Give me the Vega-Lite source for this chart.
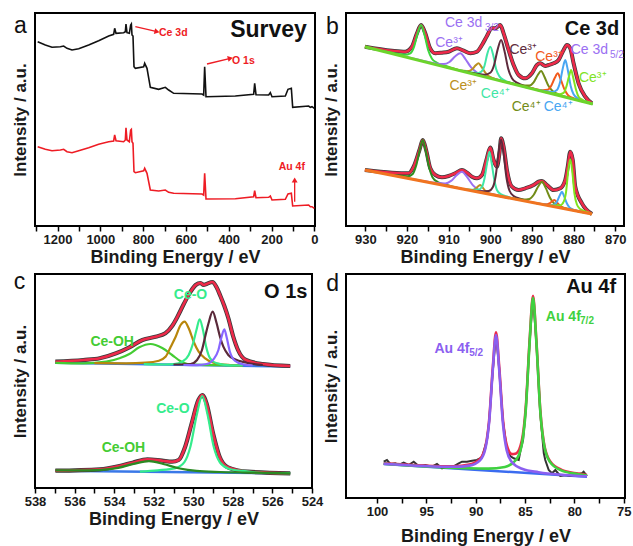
{
"$schema": "https://vega.github.io/schema/vega-lite/v6.json",
"padding": {"left": 10, "top": 12, "right": 2, "bottom": 2},
"background": "white",
"config": {
  "font": "Liberation Sans",
  "view": {"stroke": "#000000", "strokeWidth": 2},
  "axis": {"grid": false, "domain": false, "labelFontWeight": "bold", "labelFontSize": 13, "labelColor": "#1a1a1a", "labelFlush": false, "labelOverlap": false, "titleFontWeight": "bold", "titleColor": "#1a1a1a", "tickColor": "#000000", "tickWidth": 1.5, "tickSize": 5, "labelPadding": 2},
  "axisX": {"titleFontSize": 18, "titlePadding": 2},
  "axisY": {"ticks": false, "labels": false, "titleFontSize": 17, "titlePadding": 6}
},
"columns": 2,
"spacing": {"row": 48, "column": 31},
"align": "each",
"bounds": "flush",
"resolve": {"scale": {"x": "independent", "y": "independent", "color": "independent"}},
"datasets": {
"a": [
{"k":"bk","e":1292.8,"v":184.3},{"k":"bk","e":1257,"v":181},{"k":"bk","e":1225.9,"v":178.7},{"k":"bk","e":1186.9,"v":179.3},{"k":"bk","e":1171.3,"v":180},{"k":"bk","e":1155.8,"v":177.7},{"k":"bk","e":1132.4,"v":176},{"k":"bk","e":1101.2,"v":177.3},{"k":"bk","e":1054.5,"v":181},{"k":"bk","e":1007.8,"v":185.3},{"k":"bk","e":961,"v":190},{"k":"bk","e":937.7,"v":191.7},{"k":"bk","e":933,"v":197.7},{"k":"bk","e":926.8,"v":192.7},{"k":"bk","e":891,"v":193.3},{"k":"bk","e":883.2,"v":194.3},{"k":"bk","e":880.1,"v":202},{"k":"bk","e":875.4,"v":193.3},{"k":"bk","e":864.5,"v":192.7},{"k":"bk","e":858.3,"v":201},{"k":"bk","e":855.1,"v":202},{"k":"bk","e":852,"v":191},{"k":"bk","e":847.4,"v":190},{"k":"bk","e":842.7,"v":159.3},{"k":"bk","e":836.4,"v":157.7},{"k":"bk","e":797.5,"v":159.3},{"k":"bk","e":792.8,"v":162.7},{"k":"bk","e":781.9,"v":157.7},{"k":"bk","e":766.4,"v":138.7},{"k":"bk","e":727.4,"v":136.7},{"k":"bk","e":696.3,"v":138.7},{"k":"bk","e":680.7,"v":136},{"k":"bk","e":657.3,"v":132.7},{"k":"bk","e":524.9,"v":132},{"k":"bk","e":517.1,"v":131},{"k":"bk","e":512.5,"v":159.3},{"k":"bk","e":506.2,"v":129.3},{"k":"bk","e":369.2,"v":130},{"k":"bk","e":283.5,"v":131.7},{"k":"bk","e":278.8,"v":142.7},{"k":"bk","e":272.6,"v":131.3},{"k":"bk","e":213.4,"v":131},{"k":"bk","e":205.6,"v":133.3},{"k":"bk","e":197.8,"v":129.3},{"k":"bk","e":135.5,"v":130},{"k":"bk","e":123.1,"v":136.7},{"k":"bk","e":107.5,"v":137.7},{"k":"bk","e":101.2,"v":118.7},{"k":"bk","e":26.5,"v":120},{"k":"bk","e":18.7,"v":118.7},{"k":"bk","e":10.9,"v":119.3},{"k":"bk","e":0,"v":117.7},
{"k":"rd","e":1292.8,"v":79.3},{"k":"rd","e":1257,"v":76.7},{"k":"rd","e":1225.9,"v":75.3},{"k":"rd","e":1186.9,"v":76},{"k":"rd","e":1171.3,"v":76.7},{"k":"rd","e":1155.8,"v":74.3},{"k":"rd","e":1132.4,"v":73.3},{"k":"rd","e":1101.2,"v":75.3},{"k":"rd","e":1054.5,"v":78.3},{"k":"rd","e":1007.8,"v":81.7},{"k":"rd","e":961,"v":84.3},{"k":"rd","e":937.7,"v":85},{"k":"rd","e":933,"v":91},{"k":"rd","e":926.8,"v":85.3},{"k":"rd","e":891,"v":84.3},{"k":"rd","e":883.2,"v":86},{"k":"rd","e":880.1,"v":98.3},{"k":"rd","e":875.4,"v":86},{"k":"rd","e":864.5,"v":84.3},{"k":"rd","e":858.3,"v":96},{"k":"rd","e":855.1,"v":96.7},{"k":"rd","e":852,"v":84.3},{"k":"rd","e":847.4,"v":82.7},{"k":"rd","e":842.7,"v":54.3},{"k":"rd","e":836.4,"v":53.3},{"k":"rd","e":797.5,"v":55.3},{"k":"rd","e":792.8,"v":57.7},{"k":"rd","e":781.9,"v":52.7},{"k":"rd","e":766.4,"v":36},{"k":"rd","e":727.4,"v":35},{"k":"rd","e":696.3,"v":36},{"k":"rd","e":680.7,"v":33.7},{"k":"rd","e":657.3,"v":32.7},{"k":"rd","e":524.9,"v":32},{"k":"rd","e":517.1,"v":31},{"k":"rd","e":512.5,"v":52.7},{"k":"rd","e":506.2,"v":27},{"k":"rd","e":369.2,"v":27.3},{"k":"rd","e":283.5,"v":29.3},{"k":"rd","e":278.8,"v":35.3},{"k":"rd","e":272.6,"v":28.3},{"k":"rd","e":213.4,"v":28.7},{"k":"rd","e":205.6,"v":30},{"k":"rd","e":197.8,"v":26},{"k":"rd","e":135.5,"v":26.7},{"k":"rd","e":123.1,"v":32},{"k":"rd","e":107.5,"v":32.7},{"k":"rd","e":101.2,"v":20},{"k":"rd","e":26.5,"v":21},{"k":"rd","e":18.7,"v":19.3},{"k":"rd","e":10.9,"v":19.3},{"k":"rd","e":0,"v":17.7},
{"k":"ann","t":"Ce 3d","e":725.9,"v":193},{"k":"ann","t":"O 1s","e":384.7,"v":165},{"k":"ann","t":"Au 4f","e":166.7,"v":59.3},
{"k":"arrow","t":"ce","e":836.4,"v":199.3,"e2":735.2,"v2":194.3},{"k":"arrow","t":"o","e":501.6,"v":162,"e2":392.5,"v2":167.7},{"k":"arrow","t":"au","e":91.9,"v":24.3,"e2":91.9,"v2":46},
{"k":"title","t":"Survey","e":214.2,"v":196},{"k":"letter","t":"a","e":1373,"v":200}
],
"b": [
{"k":"env","g":"eT","e":930.1,"v":179.3},{"k":"env","g":"eT","e":923.6,"v":175.3},{"k":"env","g":"eT","e":920.4,"v":174.3},{"k":"env","g":"eT","e":918.8,"v":179.3},{"k":"env","g":"eT","e":917.6,"v":192.7},{"k":"env","g":"eT","e":916.6,"v":201},{"k":"env","g":"eT","e":915.6,"v":192.7},{"k":"env","g":"eT","e":914.6,"v":179.3},{"k":"env","g":"eT","e":913.2,"v":172.7},{"k":"env","g":"eT","e":911.6,"v":173.3},{"k":"env","g":"eT","e":910,"v":174.3},{"k":"env","g":"eT","e":908,"v":177.7},{"k":"env","g":"eT","e":906.4,"v":175.3},{"k":"env","g":"eT","e":904.8,"v":172.7},{"k":"env","g":"eT","e":903.2,"v":174.3},{"k":"env","g":"eT","e":902,"v":181},{"k":"env","g":"eT","e":900.8,"v":190},{"k":"env","g":"eT","e":899.6,"v":198},{"k":"env","g":"eT","e":898.8,"v":197.7},{"k":"env","g":"eT","e":897.6,"v":201},{"k":"env","g":"eT","e":896.8,"v":192.7},{"k":"env","g":"eT","e":895.6,"v":176},{"k":"env","g":"eT","e":894.4,"v":161},{"k":"env","g":"eT","e":893.2,"v":151},{"k":"env","g":"eT","e":891.6,"v":147.7},{"k":"env","g":"eT","e":890,"v":152.7},{"k":"env","g":"eT","e":888.8,"v":161},{"k":"env","g":"eT","e":888,"v":162.7},{"k":"env","g":"eT","e":886.8,"v":160},{"k":"env","g":"eT","e":886,"v":161},{"k":"env","g":"eT","e":884.8,"v":162.7},{"k":"env","g":"eT","e":883.6,"v":166},{"k":"env","g":"eT","e":882.4,"v":176},{"k":"env","g":"eT","e":881.6,"v":181},{"k":"env","g":"eT","e":880.8,"v":177.7},{"k":"env","g":"eT","e":880,"v":162.7},{"k":"env","g":"eT","e":878.8,"v":142.7},{"k":"env","g":"eT","e":877.2,"v":129.3},{"k":"env","g":"eT","e":875.6,"v":122.7},
{"k":"env","g":"eB","e":930.1,"v":56},{"k":"env","g":"eB","e":923.6,"v":53.3},{"k":"env","g":"eB","e":919.6,"v":52.7},{"k":"env","g":"eB","e":918.4,"v":59.3},{"k":"env","g":"eB","e":917,"v":76},{"k":"env","g":"eB","e":916.2,"v":86},{"k":"env","g":"eB","e":915.4,"v":76},{"k":"env","g":"eB","e":914.4,"v":57.7},{"k":"env","g":"eB","e":913.2,"v":51},{"k":"env","g":"eB","e":911.6,"v":48.7},{"k":"env","g":"eB","e":910,"v":50},{"k":"env","g":"eB","e":908.4,"v":52.7},{"k":"env","g":"eB","e":906.8,"v":56},{"k":"env","g":"eB","e":905.6,"v":53.3},{"k":"env","g":"eB","e":904.4,"v":49.3},{"k":"env","g":"eB","e":903.2,"v":47.7},{"k":"env","g":"eB","e":902,"v":51},{"k":"env","g":"eB","e":900.8,"v":68},{"k":"env","g":"eB","e":900,"v":78.5},{"k":"env","g":"eB","e":899.2,"v":66},{"k":"env","g":"eB","e":898.4,"v":59.3},{"k":"env","g":"eB","e":897.8,"v":72.7},{"k":"env","g":"eB","e":897.4,"v":87.7},{"k":"env","g":"eB","e":896.8,"v":79.3},{"k":"env","g":"eB","e":896,"v":56},{"k":"env","g":"eB","e":894.8,"v":39.3},{"k":"env","g":"eB","e":893.2,"v":36},{"k":"env","g":"eB","e":891.6,"v":37.7},{"k":"env","g":"eB","e":889.6,"v":41},{"k":"env","g":"eB","e":888.4,"v":44.3},{"k":"env","g":"eB","e":887.6,"v":45},{"k":"env","g":"eB","e":886.4,"v":41},{"k":"env","g":"eB","e":884.8,"v":36},{"k":"env","g":"eB","e":883.2,"v":37.7},{"k":"env","g":"eB","e":882,"v":46},{"k":"env","g":"eB","e":881.4,"v":59.3},{"k":"env","g":"eB","e":880.8,"v":74.3},{"k":"env","g":"eB","e":880.2,"v":66},{"k":"env","g":"eB","e":879.6,"v":39.3},{"k":"env","g":"eB","e":878,"v":22.7},{"k":"env","g":"eB","e":875.6,"v":12},
{"k":"c","g":"T1","s":"g1","e":907.5,"v":155.7},{"k":"c","g":"T1","s":"g1","e":910.1,"v":159.2},{"k":"c","g":"T1","s":"g1","e":912.7,"v":163},{"k":"c","g":"T1","s":"g1","e":914,"v":167.3},{"k":"c","g":"T1","s":"g1","e":914.9,"v":175.7},{"k":"c","g":"T1","s":"g1","e":915.8,"v":191.5},{"k":"c","g":"T1","s":"g1","e":916.6,"v":201},{"k":"c","g":"T1","s":"g1","e":917.4,"v":193.1},{"k":"c","g":"T1","s":"g1","e":918.3,"v":179.2},{"k":"c","g":"T1","s":"g1","e":919.2,"v":172.7},{"k":"c","g":"T1","s":"g1","e":920.5,"v":171.2},{"k":"c","g":"T1","s":"g1","e":923.1,"v":172.8},{"k":"c","g":"T1","s":"g1","e":925.7,"v":174.9},
{"k":"c","g":"T2","s":"pu","e":893.2,"v":140.7},{"k":"c","g":"T2","s":"pu","e":897.2,"v":145.2},{"k":"c","g":"T2","s":"pu","e":901.2,"v":150},{"k":"c","g":"T2","s":"pu","e":903.2,"v":153.5},{"k":"c","g":"T2","s":"pu","e":904.6,"v":158.6},{"k":"c","g":"T2","s":"pu","e":906,"v":167.2},{"k":"c","g":"T2","s":"pu","e":907.2,"v":172.7},{"k":"c","g":"T2","s":"pu","e":908.4,"v":169.8},{"k":"c","g":"T2","s":"pu","e":909.8,"v":164},{"k":"c","g":"T2","s":"pu","e":911.2,"v":161.9},{"k":"c","g":"T2","s":"pu","e":913.2,"v":162.6},{"k":"c","g":"T2","s":"pu","e":917.2,"v":166.2},{"k":"c","g":"T2","s":"pu","e":921.2,"v":170.1},
{"k":"c","g":"T3","s":"go","e":894.4,"v":142},{"k":"c","g":"T3","s":"go","e":896.8,"v":144.7},{"k":"c","g":"T3","s":"go","e":899.2,"v":147.6},{"k":"c","g":"T3","s":"go","e":900.4,"v":149.9},{"k":"c","g":"T3","s":"go","e":901.2,"v":153.3},{"k":"c","g":"T3","s":"go","e":902.1,"v":159.1},{"k":"c","g":"T3","s":"go","e":902.8,"v":162.8},{"k":"c","g":"T3","s":"go","e":903.5,"v":160.7},{"k":"c","g":"T3","s":"go","e":904.4,"v":156.5},{"k":"c","g":"T3","s":"go","e":905.2,"v":154.9},{"k":"c","g":"T3","s":"go","e":906.4,"v":155.2},{"k":"c","g":"T3","s":"go","e":908.8,"v":157.3},{"k":"c","g":"T3","s":"go","e":911.2,"v":159.6},
{"k":"c","g":"T4","s":"te","e":892.3,"v":139.7},{"k":"c","g":"T4","s":"te","e":894.5,"v":142.6},{"k":"c","g":"T4","s":"te","e":896.7,"v":145.9},{"k":"c","g":"T4","s":"te","e":897.8,"v":149.6},{"k":"c","g":"T4","s":"te","e":898.6,"v":157},{"k":"c","g":"T4","s":"te","e":899.3,"v":171},{"k":"c","g":"T4","s":"te","e":900,"v":179.3},{"k":"c","g":"T4","s":"te","e":900.7,"v":172.4},{"k":"c","g":"T4","s":"te","e":901.4,"v":160},{"k":"c","g":"T4","s":"te","e":902.2,"v":154.2},{"k":"c","g":"T4","s":"te","e":903.3,"v":152.9},{"k":"c","g":"T4","s":"te","e":905.5,"v":154.2},{"k":"c","g":"T4","s":"te","e":907.7,"v":155.9},
{"k":"c","g":"T5","s":"ma","e":888.3,"v":135.5},{"k":"c","g":"T5","s":"ma","e":890.9,"v":139.1},{"k":"c","g":"T5","s":"ma","e":893.5,"v":143.1},{"k":"c","g":"T5","s":"ma","e":894.8,"v":147.8},{"k":"c","g":"T5","s":"ma","e":895.7,"v":157.3},{"k":"c","g":"T5","s":"ma","e":896.6,"v":175.3},{"k":"c","g":"T5","s":"ma","e":897.4,"v":186},{"k":"c","g":"T5","s":"ma","e":898.2,"v":176.9},{"k":"c","g":"T5","s":"ma","e":899.1,"v":160.8},{"k":"c","g":"T5","s":"ma","e":900,"v":153.2},{"k":"c","g":"T5","s":"ma","e":901.3,"v":151.3},{"k":"c","g":"T5","s":"ma","e":903.9,"v":152.7},{"k":"c","g":"T5","s":"ma","e":906.5,"v":154.7},
{"k":"c","g":"T6","s":"ol","e":878,"v":124.7},{"k":"c","g":"T6","s":"ol","e":880.8,"v":128.1},{"k":"c","g":"T6","s":"ol","e":883.6,"v":131.6},{"k":"c","g":"T6","s":"ol","e":885,"v":134.7},{"k":"c","g":"T6","s":"ol","e":886,"v":139.9},{"k":"c","g":"T6","s":"ol","e":887,"v":149.2},{"k":"c","g":"T6","s":"ol","e":887.8,"v":155},{"k":"c","g":"T6","s":"ol","e":888.6,"v":151},{"k":"c","g":"T6","s":"ol","e":889.6,"v":143.7},{"k":"c","g":"T6","s":"ol","e":890.6,"v":140.5},{"k":"c","g":"T6","s":"ol","e":892,"v":140.4},{"k":"c","g":"T6","s":"ol","e":894.8,"v":142.8},{"k":"c","g":"T6","s":"ol","e":897.6,"v":145.3},
{"k":"c","g":"T7","s":"or","e":875.4,"v":122},{"k":"c","g":"T7","s":"or","e":877.8,"v":124.9},{"k":"c","g":"T7","s":"or","e":880.2,"v":128.1},{"k":"c","g":"T7","s":"or","e":881.4,"v":131.2},{"k":"c","g":"T7","s":"or","e":882.2,"v":136.7},{"k":"c","g":"T7","s":"or","e":883.1,"v":146.6},{"k":"c","g":"T7","s":"or","e":883.8,"v":152.7},{"k":"c","g":"T7","s":"or","e":884.5,"v":148.2},{"k":"c","g":"T7","s":"or","e":885.4,"v":139.9},{"k":"c","g":"T7","s":"or","e":886.2,"v":136.2},{"k":"c","g":"T7","s":"or","e":887.4,"v":135.7},{"k":"c","g":"T7","s":"or","e":889.8,"v":137.5},{"k":"c","g":"T7","s":"or","e":892.2,"v":139.6},
{"k":"c","g":"T8","s":"bl","e":875.4,"v":122},{"k":"c","g":"T8","s":"bl","e":877,"v":124.4},{"k":"c","g":"T8","s":"bl","e":879,"v":127.7},{"k":"c","g":"T8","s":"bl","e":880,"v":131.7},{"k":"c","g":"T8","s":"bl","e":880.7,"v":140.1},{"k":"c","g":"T8","s":"bl","e":881.4,"v":156.3},{"k":"c","g":"T8","s":"bl","e":882,"v":165.9},{"k":"c","g":"T8","s":"bl","e":882.6,"v":157.5},{"k":"c","g":"T8","s":"bl","e":883.3,"v":142.9},{"k":"c","g":"T8","s":"bl","e":884,"v":135.9},{"k":"c","g":"T8","s":"bl","e":885,"v":134},{"k":"c","g":"T8","s":"bl","e":887,"v":134.9},{"k":"c","g":"T8","s":"bl","e":889,"v":136.3},
{"k":"c","g":"T9","s":"lg","e":875.4,"v":122},{"k":"c","g":"T9","s":"lg","e":876.1,"v":123.3},{"k":"c","g":"T9","s":"lg","e":877.9,"v":126.2},{"k":"c","g":"T9","s":"lg","e":878.8,"v":129.3},{"k":"c","g":"T9","s":"lg","e":879.4,"v":136},{"k":"c","g":"T9","s":"lg","e":880.1,"v":148.5},{"k":"c","g":"T9","s":"lg","e":880.6,"v":156},{"k":"c","g":"T9","s":"lg","e":881.1,"v":149.6},{"k":"c","g":"T9","s":"lg","e":881.8,"v":138.5},{"k":"c","g":"T9","s":"lg","e":882.4,"v":133.1},{"k":"c","g":"T9","s":"lg","e":883.3,"v":131.8},{"k":"c","g":"T9","s":"lg","e":885.1,"v":132.7},{"k":"c","g":"T9","s":"lg","e":886.9,"v":134.1},
{"k":"c","g":"B1","s":"dg","e":907.8,"v":38},{"k":"c","g":"B1","s":"dg","e":910.2,"v":40.8},{"k":"c","g":"B1","s":"dg","e":912.6,"v":44},{"k":"c","g":"B1","s":"dg","e":913.8,"v":48.3},{"k":"c","g":"B1","s":"dg","e":914.6,"v":57.5},{"k":"c","g":"B1","s":"dg","e":915.5,"v":75.4},{"k":"c","g":"B1","s":"dg","e":916.2,"v":86},{"k":"c","g":"B1","s":"dg","e":916.9,"v":76.6},{"k":"c","g":"B1","s":"dg","e":917.8,"v":60.2},{"k":"c","g":"B1","s":"dg","e":918.6,"v":52.1},{"k":"c","g":"B1","s":"dg","e":919.8,"v":49.8},{"k":"c","g":"B1","s":"dg","e":922.2,"v":50.4},{"k":"c","g":"B1","s":"dg","e":924.6,"v":51.6},
{"k":"c","g":"B2","s":"pu","e":892.8,"v":25.9},{"k":"c","g":"B2","s":"pu","e":896.8,"v":29.4},{"k":"c","g":"B2","s":"pu","e":900.8,"v":33.3},{"k":"c","g":"B2","s":"pu","e":902.8,"v":36.2},{"k":"c","g":"B2","s":"pu","e":904.2,"v":40.9},{"k":"c","g":"B2","s":"pu","e":905.6,"v":49.1},{"k":"c","g":"B2","s":"pu","e":906.8,"v":54.2},{"k":"c","g":"B2","s":"pu","e":908,"v":51.1},{"k":"c","g":"B2","s":"pu","e":909.4,"v":45.1},{"k":"c","g":"B2","s":"pu","e":910.8,"v":42.6},{"k":"c","g":"B2","s":"pu","e":912.8,"v":42.9},{"k":"c","g":"B2","s":"pu","e":916.8,"v":45.6},{"k":"c","g":"B2","s":"pu","e":920.8,"v":48.5},
{"k":"c","g":"B3","s":"go","e":896.1,"v":28.5},{"k":"c","g":"B3","s":"go","e":897.9,"v":30.1},{"k":"c","g":"B3","s":"go","e":899.7,"v":31.8},{"k":"c","g":"B3","s":"go","e":900.6,"v":33.1},{"k":"c","g":"B3","s":"go","e":901.2,"v":35.3},{"k":"c","g":"B3","s":"go","e":901.9,"v":38.9},{"k":"c","g":"B3","s":"go","e":902.4,"v":41.1},{"k":"c","g":"B3","s":"go","e":902.9,"v":39.7},{"k":"c","g":"B3","s":"go","e":903.6,"v":37.1},{"k":"c","g":"B3","s":"go","e":904.2,"v":36.1},{"k":"c","g":"B3","s":"go","e":905.1,"v":36.2},{"k":"c","g":"B3","s":"go","e":906.9,"v":37.3},{"k":"c","g":"B3","s":"go","e":908.7,"v":38.7},
{"k":"c","g":"B4","s":"te","e":893.9,"v":26.8},{"k":"c","g":"B4","s":"te","e":895.7,"v":29.1},{"k":"c","g":"B4","s":"te","e":897.5,"v":31.9},{"k":"c","g":"B4","s":"te","e":898.4,"v":36},{"k":"c","g":"B4","s":"te","e":899,"v":45.5},{"k":"c","g":"B4","s":"te","e":899.7,"v":63.6},{"k":"c","g":"B4","s":"te","e":900.2,"v":74.3},{"k":"c","g":"B4","s":"te","e":900.7,"v":64.4},{"k":"c","g":"B4","s":"te","e":901.4,"v":47.3},{"k":"c","g":"B4","s":"te","e":902,"v":39},{"k":"c","g":"B4","s":"te","e":902.9,"v":36.3},{"k":"c","g":"B4","s":"te","e":904.7,"v":36.3},{"k":"c","g":"B4","s":"te","e":906.5,"v":37},
{"k":"c","g":"B5","s":"ma","e":890.4,"v":23.9},{"k":"c","g":"B5","s":"ma","e":892.4,"v":26.7},{"k":"c","g":"B5","s":"ma","e":894.4,"v":30.1},{"k":"c","g":"B5","s":"ma","e":895.4,"v":35.5},{"k":"c","g":"B5","s":"ma","e":896.1,"v":48},{"k":"c","g":"B5","s":"ma","e":896.8,"v":72.3},{"k":"c","g":"B5","s":"ma","e":897.4,"v":86.6},{"k":"c","g":"B5","s":"ma","e":898,"v":73.3},{"k":"c","g":"B5","s":"ma","e":898.7,"v":50},{"k":"c","g":"B5","s":"ma","e":899.4,"v":38.7},{"k":"c","g":"B5","s":"ma","e":900.4,"v":34.9},{"k":"c","g":"B5","s":"ma","e":902.4,"v":34.7},{"k":"c","g":"B5","s":"ma","e":904.4,"v":35.2},
{"k":"c","g":"B6","s":"ol","e":877.1,"v":13.2},{"k":"c","g":"B6","s":"ol","e":880.1,"v":16},{"k":"c","g":"B6","s":"ol","e":883.1,"v":19.3},{"k":"c","g":"B6","s":"ol","e":884.6,"v":22.3},{"k":"c","g":"B6","s":"ol","e":885.6,"v":27.8},{"k":"c","g":"B6","s":"ol","e":886.7,"v":38.1},{"k":"c","g":"B6","s":"ol","e":887.6,"v":44.3},{"k":"c","g":"B6","s":"ol","e":888.5,"v":39.5},{"k":"c","g":"B6","s":"ol","e":889.6,"v":31},{"k":"c","g":"B6","s":"ol","e":890.6,"v":27.1},{"k":"c","g":"B6","s":"ol","e":892.1,"v":26.5},{"k":"c","g":"B6","s":"ol","e":895.1,"v":28.1},{"k":"c","g":"B6","s":"ol","e":898.1,"v":30.2},
{"k":"c","g":"B7","s":"or","e":878.3,"v":14.2},{"k":"c","g":"B7","s":"or","e":880.1,"v":15.8},{"k":"c","g":"B7","s":"or","e":881.9,"v":17.4},{"k":"c","g":"B7","s":"or","e":882.8,"v":18.7},{"k":"c","g":"B7","s":"or","e":883.4,"v":20.7},{"k":"c","g":"B7","s":"or","e":884.1,"v":24},{"k":"c","g":"B7","s":"or","e":884.6,"v":26},{"k":"c","g":"B7","s":"or","e":885.1,"v":24.8},{"k":"c","g":"B7","s":"or","e":885.8,"v":22.5},{"k":"c","g":"B7","s":"or","e":886.4,"v":21.7},{"k":"c","g":"B7","s":"or","e":887.3,"v":21.8},{"k":"c","g":"B7","s":"or","e":889.1,"v":23},{"k":"c","g":"B7","s":"or","e":890.9,"v":24.4},
{"k":"c","g":"B8","s":"bl","e":876.5,"v":12.7},{"k":"c","g":"B8","s":"bl","e":878.3,"v":14.5},{"k":"c","g":"B8","s":"bl","e":880.1,"v":16.4},{"k":"c","g":"B8","s":"bl","e":881,"v":18.6},{"k":"c","g":"B8","s":"bl","e":881.6,"v":22.5},{"k":"c","g":"B8","s":"bl","e":882.3,"v":29.9},{"k":"c","g":"B8","s":"bl","e":882.8,"v":34.3},{"k":"c","g":"B8","s":"bl","e":883.3,"v":30.7},{"k":"c","g":"B8","s":"bl","e":884,"v":24.3},{"k":"c","g":"B8","s":"bl","e":884.6,"v":21.5},{"k":"c","g":"B8","s":"bl","e":885.5,"v":20.8},{"k":"c","g":"B8","s":"bl","e":887.3,"v":21.7},{"k":"c","g":"B8","s":"bl","e":889.1,"v":22.9},
{"k":"c","g":"B9","s":"lg","e":875.6,"v":12},{"k":"c","g":"B9","s":"lg","e":876.8,"v":14},{"k":"c","g":"B9","s":"lg","e":878.4,"v":16.9},{"k":"c","g":"B9","s":"lg","e":879.2,"v":21.5},{"k":"c","g":"B9","s":"lg","e":879.8,"v":32.6},{"k":"c","g":"B9","s":"lg","e":880.3,"v":54},{"k":"c","g":"B9","s":"lg","e":880.8,"v":66.7},{"k":"c","g":"B9","s":"lg","e":881.3,"v":54.8},{"k":"c","g":"B9","s":"lg","e":881.8,"v":34.2},{"k":"c","g":"B9","s":"lg","e":882.4,"v":24.1},{"k":"c","g":"B9","s":"lg","e":883.2,"v":20.7},{"k":"c","g":"B9","s":"lg","e":884.8,"v":20.4},{"k":"c","g":"B9","s":"lg","e":886.4,"v":20.7},
{"k":"bg","g":"bT","s":"bgT","e":930.1,"v":179.3},{"k":"bg","g":"bT","s":"bgT","e":875.4,"v":122},{"k":"bg","g":"bB","s":"bgB","e":930.1,"v":56},{"k":"bg","g":"bB","s":"bgB","e":875.6,"v":12},
{"k":"lab","s":"pu","t":"Ce 3d","e":906.4,"v":203.3},{"k":"sub","s":"pu","t":"3/2","e":899.6,"v":198},{"k":"lab","s":"pu","t":"Ce³⁺","e":909.9,"v":183},{"k":"lab","s":"ma","t":"Ce³⁺","e":892.1,"v":176.5},{"k":"lab","s":"or","t":"Ce³⁺","e":885.9,"v":169},{"k":"lab","s":"pu","t":"Ce 3d","e":876.2,"v":176},{"k":"sub","s":"pu","t":"5/2","e":869.6,"v":171},{"k":"lab","s":"lg","t":"Ce³⁺","e":875.4,"v":148.5},{"k":"lab","s":"go","t":"Ce³⁺","e":906.5,"v":140},{"k":"lab","s":"te","t":"Ce⁴⁺","e":898.8,"v":132},{"k":"lab","s":"ol","t":"Ce⁴⁺","e":891.4,"v":119.5},{"k":"lab","s":"bl","t":"Ce⁴⁺","e":883.7,"v":119.5},
{"k":"title","t":"Ce 3d","e":875.6,"v":197},{"k":"letter","t":"b","e":937.9,"v":199.5}
],
"c": [
{"k":"env","g":"eT","e":536.97,"v":126.3},{"k":"env","g":"eT","e":535.56,"v":128},{"k":"env","g":"eT","e":534.73,"v":129.7},{"k":"env","g":"eT","e":533.9,"v":134.7},{"k":"env","g":"eT","e":533.23,"v":140.7},{"k":"env","g":"eT","e":532.57,"v":148},{"k":"env","g":"eT","e":531.91,"v":151.3},{"k":"env","g":"eT","e":531.41,"v":154.7},{"k":"env","g":"eT","e":531.07,"v":162},{"k":"env","g":"eT","e":530.78,"v":172},{"k":"env","g":"eT","e":530.48,"v":184},{"k":"env","g":"eT","e":530.18,"v":195},{"k":"env","g":"eT","e":529.88,"v":203},{"k":"env","g":"eT","e":529.63,"v":205},{"k":"env","g":"eT","e":529.48,"v":203},{"k":"env","g":"eT","e":529.33,"v":204},{"k":"env","g":"eT","e":529.03,"v":206},{"k":"env","g":"eT","e":528.83,"v":201},{"k":"env","g":"eT","e":528.63,"v":192},{"k":"env","g":"eT","e":528.43,"v":182},{"k":"env","g":"eT","e":528.23,"v":170},{"k":"env","g":"eT","e":527.99,"v":152},{"k":"env","g":"eT","e":527.74,"v":138},{"k":"env","g":"eT","e":527.34,"v":128},{"k":"env","g":"eT","e":526.49,"v":124},{"k":"env","g":"eT","e":525.1,"v":122},
{"k":"env","g":"eB","e":536.97,"v":17.3},{"k":"env","g":"eB","e":534.73,"v":18.7},{"k":"env","g":"eB","e":533.73,"v":22},{"k":"env","g":"eB","e":533.07,"v":25.3},{"k":"env","g":"eB","e":532.32,"v":28.7},{"k":"env","g":"eB","e":531.57,"v":27.3},{"k":"env","g":"eB","e":531.07,"v":26.3},{"k":"env","g":"eB","e":530.74,"v":28},{"k":"env","g":"eB","e":530.41,"v":41.3},{"k":"env","g":"eB","e":530.08,"v":64.7},{"k":"env","g":"eB","e":529.74,"v":88},{"k":"env","g":"eB","e":529.54,"v":93},{"k":"env","g":"eB","e":529.33,"v":84.7},{"k":"env","g":"eB","e":529,"v":54.7},{"k":"env","g":"eB","e":528.67,"v":31.3},{"k":"env","g":"eB","e":528.25,"v":20.7},{"k":"env","g":"eB","e":527.25,"v":16.3},{"k":"env","g":"eB","e":525.1,"v":14.7},
{"k":"bg","g":"bT","s":"bg","e":536.97,"v":125.3},{"k":"bg","g":"bT","s":"bg","e":525.1,"v":121.5},{"k":"bg","g":"bB","s":"bg","e":536.97,"v":17.3},{"k":"bg","g":"bB","s":"bg","e":525.1,"v":14.7},
{"k":"c","g":"c1","s":"oh","e":527.5,"v":122.6},{"k":"c","g":"c1","s":"oh","e":530.14,"v":123.3},{"k":"c","g":"c1","s":"oh","e":530.66,"v":127},{"k":"c","g":"c1","s":"oh","e":531.07,"v":133},{"k":"c","g":"c1","s":"oh","e":531.57,"v":140},{"k":"c","g":"c1","s":"oh","e":532.16,"v":144},{"k":"c","g":"c1","s":"oh","e":532.73,"v":140.7},{"k":"c","g":"c1","s":"oh","e":533.23,"v":134},{"k":"c","g":"c1","s":"oh","e":533.73,"v":129.7},{"k":"c","g":"c1","s":"oh","e":534.4,"v":126.3},{"k":"c","g":"c1","s":"oh","e":535.56,"v":124.7},{"k":"c","g":"c1","s":"oh","e":536.97,"v":125.2},
{"k":"c","g":"c2","s":"go","e":527.5,"v":122.5},{"k":"c","g":"c2","s":"go","e":528.15,"v":123},{"k":"c","g":"c2","s":"go","e":528.98,"v":125.3},{"k":"c","g":"c2","s":"go","e":529.4,"v":129.7},{"k":"c","g":"c2","s":"go","e":529.73,"v":136.3},{"k":"c","g":"c2","s":"go","e":529.98,"v":146.3},{"k":"c","g":"c2","s":"go","e":530.23,"v":159.7},{"k":"c","g":"c2","s":"go","e":530.44,"v":166.3},{"k":"c","g":"c2","s":"go","e":530.64,"v":163},{"k":"c","g":"c2","s":"go","e":530.89,"v":151.3},{"k":"c","g":"c2","s":"go","e":531.14,"v":141.3},{"k":"c","g":"c2","s":"go","e":531.39,"v":131.5},{"k":"c","g":"c2","s":"go","e":531.74,"v":127.3},{"k":"c","g":"c2","s":"go","e":532.4,"v":125.3},{"k":"c","g":"c2","s":"go","e":533.4,"v":124.7},{"k":"c","g":"c2","s":"go","e":535,"v":124.9},
{"k":"c","g":"c3","s":"sg","e":527.5,"v":122.5},{"k":"c","g":"c3","s":"sg","e":528.15,"v":122.7},{"k":"c","g":"c3","s":"sg","e":528.82,"v":124.7},{"k":"c","g":"c3","s":"sg","e":529.15,"v":129.7},{"k":"c","g":"c3","s":"sg","e":529.35,"v":141.3},{"k":"c","g":"c3","s":"sg","e":529.51,"v":158},{"k":"c","g":"c3","s":"sg","e":529.68,"v":168.7},{"k":"c","g":"c3","s":"sg","e":529.84,"v":158},{"k":"c","g":"c3","s":"sg","e":530.01,"v":144.7},{"k":"c","g":"c3","s":"sg","e":530.23,"v":133},{"k":"c","g":"c3","s":"sg","e":530.56,"v":126.3},{"k":"c","g":"c3","s":"sg","e":530.97,"v":124},{"k":"c","g":"c3","s":"sg","e":531.47,"v":123.5},{"k":"c","g":"c3","s":"sg","e":532.5,"v":123.8},
{"k":"c","g":"c4","s":"ma","e":526.49,"v":123},{"k":"c","g":"c4","s":"ma","e":527.32,"v":125.3},{"k":"c","g":"c4","s":"ma","e":527.9,"v":128.7},{"k":"c","g":"c4","s":"ma","e":528.23,"v":133},{"k":"c","g":"c4","s":"ma","e":528.48,"v":141.3},{"k":"c","g":"c4","s":"ma","e":528.65,"v":151.3},{"k":"c","g":"c4","s":"ma","e":528.82,"v":164.7},{"k":"c","g":"c4","s":"ma","e":529.02,"v":176.3},{"k":"c","g":"c4","s":"ma","e":529.23,"v":164.7},{"k":"c","g":"c4","s":"ma","e":529.4,"v":151.3},{"k":"c","g":"c4","s":"ma","e":529.56,"v":138},{"k":"c","g":"c4","s":"ma","e":529.81,"v":128},{"k":"c","g":"c4","s":"ma","e":530.14,"v":124},{"k":"c","g":"c4","s":"ma","e":531,"v":123.5},
{"k":"c","g":"c5","s":"pu","e":527,"v":122.5},{"k":"c","g":"c5","s":"pu","e":527.49,"v":123.7},{"k":"c","g":"c5","s":"pu","e":527.9,"v":127.3},{"k":"c","g":"c5","s":"pu","e":528.15,"v":136.3},{"k":"c","g":"c5","s":"pu","e":528.32,"v":151.3},{"k":"c","g":"c5","s":"pu","e":528.43,"v":158.7},{"k":"c","g":"c5","s":"pu","e":528.57,"v":151.3},{"k":"c","g":"c5","s":"pu","e":528.73,"v":138},{"k":"c","g":"c5","s":"pu","e":528.98,"v":128.7},{"k":"c","g":"c5","s":"pu","e":529.32,"v":124},{"k":"c","g":"c5","s":"pu","e":529.81,"v":122.9},{"k":"c","g":"c5","s":"pu","e":530.5,"v":123},
{"k":"c","g":"c6","s":"sg","e":525.1,"v":14.8},{"k":"c","g":"c6","s":"sg","e":526.4,"v":15},{"k":"c","g":"c6","s":"sg","e":527.3,"v":16.6},{"k":"c","g":"c6","s":"sg","e":528.2,"v":19.3},{"k":"c","g":"c6","s":"sg","e":528.65,"v":25.5},{"k":"c","g":"c6","s":"sg","e":528.97,"v":41.5},{"k":"c","g":"c6","s":"sg","e":529.28,"v":73.4},{"k":"c","g":"c6","s":"sg","e":529.55,"v":92},{"k":"c","g":"c6","s":"sg","e":529.82,"v":73.5},{"k":"c","g":"c6","s":"sg","e":530.14,"v":41.8},{"k":"c","g":"c6","s":"sg","e":530.45,"v":25.9},{"k":"c","g":"c6","s":"sg","e":530.9,"v":19.9},{"k":"c","g":"c6","s":"sg","e":531.8,"v":17.7},{"k":"c","g":"c6","s":"sg","e":532.7,"v":16.4},
{"k":"c","g":"c7","s":"dg","e":525.1,"v":14.7},{"k":"c","g":"c7","s":"dg","e":526.24,"v":15.15},{"k":"c","g":"c7","s":"dg","e":528.64,"v":16},{"k":"c","g":"c7","s":"dg","e":529.84,"v":17.1},{"k":"c","g":"c7","s":"dg","e":530.68,"v":19.5},{"k":"c","g":"c7","s":"dg","e":531.52,"v":24},{"k":"c","g":"c7","s":"dg","e":532.24,"v":26.8},{"k":"c","g":"c7","s":"dg","e":532.96,"v":24.4},{"k":"c","g":"c7","s":"dg","e":533.8,"v":20.2},{"k":"c","g":"c7","s":"dg","e":534.64,"v":18.2},{"k":"c","g":"c7","s":"dg","e":535.84,"v":17.6},{"k":"c","g":"c7","s":"dg","e":536.97,"v":17.6},
{"k":"lab","s":"oh","t":"Ce-OH","e":534.1,"v":146.3},{"k":"lab","s":"sg","t":"Ce-O","e":530.14,"v":193},{"k":"lab","s":"sg","t":"Ce-O","e":531.03,"v":78.7},{"k":"lab","s":"oh","t":"Ce-OH","e":533.53,"v":39.7},
{"k":"title","t":"O 1s","e":525.33,"v":196.3},{"k":"letter","t":"c","e":538.78,"v":206}
],
"d": [
{"k":"bg","g":"bg","s":"bg","e":99.32,"v":34},{"k":"bg","g":"bg","s":"bg","e":78.72,"v":21.3},
{"k":"dat","e":99.32,"v":36.3},{"k":"dat","e":98.99,"v":38},{"k":"dat","e":98.65,"v":34},{"k":"dat","e":98.15,"v":34.7},{"k":"dat","e":97.8,"v":33},{"k":"dat","e":97.3,"v":35.3},{"k":"dat","e":96.79,"v":33},{"k":"dat","e":96.28,"v":36.3},{"k":"dat","e":95.78,"v":32},{"k":"dat","e":95.11,"v":33},{"k":"dat","e":94.43,"v":31.3},{"k":"dat","e":93.92,"v":34},{"k":"dat","e":93.41,"v":29.7},{"k":"dat","e":92.91,"v":31.3},{"k":"dat","e":92.4,"v":30.7},{"k":"dat","e":91.72,"v":34.7},{"k":"dat","e":91.39,"v":36.3},{"k":"dat","e":90.88,"v":36.3},{"k":"dat","e":90.37,"v":37.3},{"k":"dat","e":89.87,"v":38},{"k":"dat","e":89.36,"v":40.7},{"k":"dat","e":88.86,"v":58},{"k":"dat","e":88.64,"v":76},{"k":"dat","e":88.26,"v":128},{"k":"dat","e":87.94,"v":163.5},{"k":"dat","e":87.62,"v":130},{"k":"dat","e":87.24,"v":77},{"k":"dat","e":86.86,"v":50},{"k":"dat","e":86.5,"v":42},{"k":"dat","e":86.15,"v":39.7},{"k":"dat","e":85.64,"v":38},{"k":"dat","e":85.45,"v":48},{"k":"dat","e":85.2,"v":58},{"k":"dat","e":84.93,"v":88},{"k":"dat","e":84.53,"v":157},{"k":"dat","e":84.19,"v":201},{"k":"dat","e":83.85,"v":156},{"k":"dat","e":83.45,"v":84},{"k":"dat","e":83.1,"v":45},{"k":"dat","e":82.95,"v":38},{"k":"dat","e":82.6,"v":28},{"k":"dat","e":82.27,"v":24.7},{"k":"dat","e":81.93,"v":28},{"k":"dat","e":81.43,"v":22},{"k":"dat","e":80.92,"v":23},{"k":"dat","e":80.41,"v":22},{"k":"dat","e":79.91,"v":23},{"k":"dat","e":79.23,"v":24.7},{"k":"dat","e":79.06,"v":26.3},{"k":"dat","e":78.72,"v":22},
{"k":"env","g":"e","e":99.32,"v":34.6},{"k":"env","g":"e","e":95,"v":32.3},{"k":"env","g":"e","e":92.26,"v":31.8},{"k":"env","g":"e","e":90.64,"v":33.4},{"k":"env","g":"e","e":89.56,"v":39.1},{"k":"env","g":"e","e":89.02,"v":51},{"k":"env","g":"e","e":88.64,"v":77.4},{"k":"env","g":"e","e":88.26,"v":131.4},{"k":"env","g":"e","e":87.94,"v":165.8},{"k":"env","g":"e","e":87.62,"v":131.8},{"k":"env","g":"e","e":87.24,"v":78.7},{"k":"env","g":"e","e":86.86,"v":53.2},{"k":"env","g":"e","e":86.32,"v":43.9},{"k":"env","g":"e","e":85.9,"v":44.6},{"k":"env","g":"e","e":85.33,"v":57.2},{"k":"env","g":"e","e":84.93,"v":90.1},{"k":"env","g":"e","e":84.53,"v":158.5},{"k":"env","g":"e","e":84.19,"v":202.1},{"k":"env","g":"e","e":83.85,"v":157.4},{"k":"env","g":"e","e":83.45,"v":87.6},{"k":"env","g":"e","e":83.05,"v":53.1},{"k":"env","g":"e","e":82.48,"v":37.1},{"k":"env","g":"e","e":81.34,"v":28.4},{"k":"env","g":"e","e":79.63,"v":24.4},{"k":"env","g":"e","e":78.72,"v":23},
{"k":"gr","g":"g","s":"gr","e":99.32,"v":34.3},{"k":"gr","g":"g","s":"gr","e":88.75,"v":29.4},{"k":"gr","g":"g","s":"gr","e":87.04,"v":31.1},{"k":"gr","g":"g","s":"gr","e":85.9,"v":38.2},{"k":"gr","g":"g","s":"gr","e":85.33,"v":53.3},{"k":"gr","g":"g","s":"gr","e":84.93,"v":87.2},{"k":"gr","g":"g","s":"gr","e":84.53,"v":156.2},{"k":"gr","g":"g","s":"gr","e":84.19,"v":200.2},{"k":"gr","g":"g","s":"gr","e":83.85,"v":155.8},{"k":"gr","g":"g","s":"gr","e":83.45,"v":86.2},{"k":"gr","g":"g","s":"gr","e":83.05,"v":51.9},{"k":"gr","g":"g","s":"gr","e":82.48,"v":36.1},{"k":"gr","g":"g","s":"gr","e":81.34,"v":27.6},{"k":"gr","g":"g","s":"gr","e":79.63,"v":23.8},{"k":"gr","g":"g","s":"gr","e":78.72,"v":22.5},
{"k":"pu","g":"p","s":"pu","e":99.32,"v":34.3},{"k":"pu","g":"p","s":"pu","e":92.26,"v":31.2},{"k":"pu","g":"p","s":"pu","e":90.64,"v":32.4},{"k":"pu","g":"p","s":"pu","e":89.56,"v":37.7},{"k":"pu","g":"p","s":"pu","e":89.02,"v":49.3},{"k":"pu","g":"p","s":"pu","e":88.64,"v":75.4},{"k":"pu","g":"p","s":"pu","e":88.26,"v":128.9},{"k":"pu","g":"p","s":"pu","e":87.94,"v":163},{"k":"pu","g":"p","s":"pu","e":87.62,"v":128.5},{"k":"pu","g":"p","s":"pu","e":87.24,"v":74.6},{"k":"pu","g":"p","s":"pu","e":86.86,"v":47.9},{"k":"pu","g":"p","s":"pu","e":86.32,"v":35.7},{"k":"pu","g":"p","s":"pu","e":85.24,"v":29},{"k":"pu","g":"p","s":"pu","e":83.62,"v":25.8},{"k":"pu","g":"p","s":"pu","e":78.72,"v":21.8},
{"k":"lab","s":"gr","t":"Au 4f","e":81.12,"v":181.3},{"k":"sub","s":"gr","t":"7/2","e":78.72,"v":177.3},{"k":"lab","s":"pu","t":"Au 4f","e":92.4,"v":148.7},{"k":"sub","s":"pu","t":"5/2","e":89.95,"v":144.7},
{"k":"title","t":"Au 4f","e":78.3,"v":211.3},{"k":"letter","t":"d","e":104.5,"v":214}
]
},
"concat": [
{
 "width": 280, "height": 213,
 "data": {"name": "a"},
 "encoding": {
  "x": {"field": "e", "type": "quantitative", "scale": {"domain": [1305.3, -3.1], "nice": false, "zero": false}, "axis": {"title": "Binding Energy / eV", "values": [1300,1200,1100,1000,900,800,700,600,500,400,300,200,100,0], "format": "d", "labelExpr": "datum.value % 200 === 0 ? datum.label : ''"}},
  "y": {"field": "v", "type": "quantitative", "scale": {"domain": [0, 213], "nice": false, "zero": false}, "axis": {"title": "Intensity / a.u."}}
 },
 "layer": [
  {"transform": [{"filter": "datum.k === 'bk'"}], "mark": {"type": "line", "color": "#111111", "strokeWidth": 1.6}},
  {"transform": [{"filter": "datum.k === 'rd'"}], "mark": {"type": "line", "color": "#ee1c24", "strokeWidth": 1.6}},
  {"transform": [{"filter": "datum.k === 'arrow'"}], "mark": {"type": "rule", "color": "#ee1c24", "strokeWidth": 1.3}, "encoding": {"x2": {"field": "e2"}, "y2": {"field": "v2"}}},
  {"transform": [{"filter": "datum.k === 'arrow' && datum.t === 'ce'"}], "mark": {"type": "point", "shape": "triangle-right", "filled": true, "size": 35, "angle": 13, "color": "#ee1c24", "opacity": 1}, "encoding": {"x": {"field": "e2", "type": "quantitative", "title": "Binding Energy / eV"}, "y": {"field": "v2", "type": "quantitative", "title": "Intensity / a.u."}}},
  {"transform": [{"filter": "datum.k === 'arrow' && datum.t === 'o'"}], "mark": {"type": "point", "shape": "triangle-right", "filled": true, "size": 35, "angle": -14, "color": "#ee1c24", "opacity": 1}, "encoding": {"x": {"field": "e2", "type": "quantitative", "title": "Binding Energy / eV"}, "y": {"field": "v2", "type": "quantitative", "title": "Intensity / a.u."}}},
  {"transform": [{"filter": "datum.k === 'arrow' && datum.t === 'au'"}], "mark": {"type": "point", "shape": "triangle-up", "filled": true, "size": 35, "color": "#ee1c24", "opacity": 1}, "encoding": {"x": {"field": "e2", "type": "quantitative", "title": "Binding Energy / eV"}, "y": {"field": "v2", "type": "quantitative", "title": "Intensity / a.u."}}},
  {"transform": [{"filter": "datum.k === 'ann'"}], "mark": {"type": "text", "align": "left", "baseline": "middle", "fontSize": 10.5, "fontWeight": "bold", "color": "#ee1c24"}, "encoding": {"text": {"field": "t"}}},
  {"transform": [{"filter": "datum.k === 'title'"}], "mark": {"type": "text", "align": "center", "baseline": "middle", "fontSize": 23, "fontWeight": "bold", "color": "#111111"}, "encoding": {"text": {"field": "t"}}},
  {"transform": [{"filter": "datum.k === 'letter'"}], "mark": {"type": "text", "align": "center", "baseline": "middle", "fontSize": 23, "color": "#111111"}, "encoding": {"text": {"field": "t"}}}
 ]
},
{
 "width": 278, "height": 213,
 "data": {"name": "b"},
 "encoding": {
  "x": {"field": "e", "type": "quantitative", "scale": {"domain": [934.63, 867.9], "nice": false, "zero": false}, "axis": {"title": "Binding Energy / eV", "values": [930,925,920,915,910,905,900,895,890,885,880,875,870], "format": "d", "labelExpr": "datum.value % 10 === 0 ? datum.label : ''"}},
  "y": {"field": "v", "type": "quantitative", "scale": {"domain": [0, 213], "nice": false, "zero": false}, "axis": {"title": "Intensity / a.u."}}
 },
 "layer": [
  {"transform": [{"filter": "datum.k === 'env'"}], "mark": {"type": "line", "color": "#3a3a3a", "strokeWidth": 4, "interpolate": "monotone"}, "encoding": {"detail": {"field": "g"}}},
  {"transform": [{"filter": "datum.k === 'env'"}], "mark": {"type": "line", "color": "#ee2a4a", "strokeWidth": 2.6, "interpolate": "monotone"}, "encoding": {"detail": {"field": "g"}}},
  {"transform": [{"filter": "datum.k === 'c'"}], "mark": {"type": "line", "strokeWidth": 2, "interpolate": "monotone"}, "encoding": {"detail": {"field": "g"}, "color": {"field": "s", "type": "nominal", "legend": null, "scale": {"domain": ["g1","pu","go","te","ma","ol","or","bl","lg","dg","bgT","bgB"], "range": ["#3cd63c","#9b70f2","#bb9020","#3fe6a6","#5e2b3d","#728c18","#f25a1c","#48a6f2","#80e31f","#2e8c1e","#6cd42c","#f07420"]}}}},
  {"transform": [{"filter": "datum.k === 'bg'"}], "mark": {"type": "line", "strokeWidth": 3}, "encoding": {"detail": {"field": "g"}, "color": {"field": "s", "type": "nominal", "legend": null, "scale": {"domain": ["g1","pu","go","te","ma","ol","or","bl","lg","dg","bgT","bgB"], "range": ["#3cd63c","#9b70f2","#bb9020","#3fe6a6","#5e2b3d","#728c18","#f25a1c","#48a6f2","#80e31f","#2e8c1e","#6cd42c","#f07420"]}}}},
  {"transform": [{"filter": "datum.k === 'lab'"}], "mark": {"type": "text", "align": "center", "baseline": "middle", "fontSize": 14}, "encoding": {"text": {"field": "t"}, "color": {"field": "s", "type": "nominal", "legend": null, "scale": {"domain": ["g1","pu","go","te","ma","ol","or","bl","lg","dg","bgT","bgB"], "range": ["#3cd63c","#9b70f2","#bb9020","#3fe6a6","#5e2b3d","#728c18","#f25a1c","#48a6f2","#80e31f","#2e8c1e","#6cd42c","#f07420"]}}}},
  {"transform": [{"filter": "datum.k === 'sub'"}], "mark": {"type": "text", "align": "center", "baseline": "middle", "fontSize": 10}, "encoding": {"text": {"field": "t"}, "color": {"field": "s", "type": "nominal", "legend": null, "scale": {"domain": ["g1","pu","go","te","ma","ol","or","bl","lg","dg","bgT","bgB"], "range": ["#3cd63c","#9b70f2","#bb9020","#3fe6a6","#5e2b3d","#728c18","#f25a1c","#48a6f2","#80e31f","#2e8c1e","#6cd42c","#f07420"]}}}},
  {"transform": [{"filter": "datum.k === 'title'"}], "mark": {"type": "text", "align": "center", "baseline": "middle", "fontSize": 20, "fontWeight": "bold", "color": "#111111"}, "encoding": {"text": {"field": "t"}}},
  {"transform": [{"filter": "datum.k === 'letter'"}], "mark": {"type": "text", "align": "center", "baseline": "middle", "fontSize": 23, "color": "#111111"}, "encoding": {"text": {"field": "t"}}}
 ]
},
{
 "width": 277, "height": 214,
 "data": {"name": "c"},
 "encoding": {
  "x": {"field": "e", "type": "quantitative", "scale": {"domain": [538, 524], "nice": false, "zero": false}, "axis": {"title": "Binding Energy / eV", "values": [538,537,536,535,534,533,532,531,530,529,528,527,526,525,524], "format": "d", "labelExpr": "datum.value % 2 === 0 ? datum.label : ''"}},
  "y": {"field": "v", "type": "quantitative", "scale": {"domain": [0, 214], "nice": false, "zero": false}, "axis": {"title": "Intensity / a.u."}}
 },
 "layer": [
  {"transform": [{"filter": "datum.k === 'bg'"}], "mark": {"type": "line", "strokeWidth": 2.5}, "encoding": {"detail": {"field": "g"}, "color": {"field": "s", "type": "nominal", "legend": null, "scale": {"domain": ["oh","go","sg","ma","pu","bg","dg"], "range": ["#44cc33","#b8860b","#35ec8c","#5a2a3a","#8866ff","#3a78e8","#2a8a22"]}}}},
  {"transform": [{"filter": "datum.k === 'env'"}], "mark": {"type": "line", "color": "#3a3a3a", "strokeWidth": 4.2, "interpolate": "monotone"}, "encoding": {"detail": {"field": "g"}}},
  {"transform": [{"filter": "datum.k === 'env'"}], "mark": {"type": "line", "color": "#ee2a4a", "strokeWidth": 2.6, "interpolate": "monotone"}, "encoding": {"detail": {"field": "g"}}},
  {"transform": [{"filter": "datum.k === 'c'"}], "mark": {"type": "line", "strokeWidth": 2.2, "interpolate": "monotone"}, "encoding": {"detail": {"field": "g"}, "color": {"field": "s", "type": "nominal", "legend": null, "scale": {"domain": ["oh","go","sg","ma","pu","bg","dg"], "range": ["#44cc33","#b8860b","#35ec8c","#5a2a3a","#8866ff","#3a78e8","#2a8a22"]}}}},
  {"transform": [{"filter": "datum.k === 'lab'"}], "mark": {"type": "text", "align": "center", "baseline": "middle", "fontSize": 14, "fontWeight": "bold"}, "encoding": {"text": {"field": "t"}, "color": {"field": "s", "type": "nominal", "legend": null, "scale": {"domain": ["oh","go","sg","ma","pu","bg","dg"], "range": ["#44cc33","#b8860b","#35ec8c","#5a2a3a","#8866ff","#3a78e8","#2a8a22"]}}}},
  {"transform": [{"filter": "datum.k === 'title'"}], "mark": {"type": "text", "align": "center", "baseline": "middle", "fontSize": 20, "fontWeight": "bold", "color": "#111111"}, "encoding": {"text": {"field": "t"}}},
  {"transform": [{"filter": "datum.k === 'letter'"}], "mark": {"type": "text", "align": "center", "baseline": "middle", "fontSize": 23, "color": "#111111"}, "encoding": {"text": {"field": "t"}}}
 ]
},
{
 "width": 279, "height": 224,
 "data": {"name": "d"},
 "encoding": {
  "x": {"field": "e", "type": "quantitative", "scale": {"domain": [103.14, 74.87], "nice": false, "zero": false}, "axis": {"title": "Binding Energy / eV", "titlePadding": 9, "values": [100,97.5,95,92.5,90,87.5,85,82.5,80,77.5,75], "format": "d", "labelExpr": "datum.value % 5 === 0 ? datum.label : ''"}},
  "y": {"field": "v", "type": "quantitative", "scale": {"domain": [0, 224], "nice": false, "zero": false}, "axis": {"title": "Intensity / a.u."}}
 },
 "layer": [
  {"transform": [{"filter": "datum.k === 'bg'"}], "mark": {"type": "line", "strokeWidth": 2.5}, "encoding": {"color": {"field": "s", "type": "nominal", "legend": null, "scale": {"domain": ["pu","gr","bg"], "range": ["#8b5ff0","#3fd13f","#3b6cf0"]}}}},
  {"transform": [{"filter": "datum.k === 'dat'"}], "mark": {"type": "line", "color": "#333333", "strokeWidth": 2}},
  {"transform": [{"filter": "datum.k === 'env'"}], "mark": {"type": "line", "color": "#ee2a4a", "strokeWidth": 2.6, "interpolate": "monotone"}},
  {"transform": [{"filter": "datum.k === 'gr'"}], "mark": {"type": "line", "strokeWidth": 2.6, "interpolate": "monotone"}, "encoding": {"color": {"field": "s", "type": "nominal", "legend": null, "scale": {"domain": ["pu","gr","bg"], "range": ["#8b5ff0","#3fd13f","#3b6cf0"]}}}},
  {"transform": [{"filter": "datum.k === 'pu'"}], "mark": {"type": "line", "strokeWidth": 2.6, "interpolate": "monotone"}, "encoding": {"color": {"field": "s", "type": "nominal", "legend": null, "scale": {"domain": ["pu","gr","bg"], "range": ["#8b5ff0","#3fd13f","#3b6cf0"]}}}},
  {"transform": [{"filter": "datum.k === 'lab'"}], "mark": {"type": "text", "align": "center", "baseline": "middle", "fontSize": 14, "fontWeight": "bold"}, "encoding": {"text": {"field": "t"}, "color": {"field": "s", "type": "nominal", "legend": null, "scale": {"domain": ["pu","gr","bg"], "range": ["#8b5ff0","#3fd13f","#3b6cf0"]}}}},
  {"transform": [{"filter": "datum.k === 'sub'"}], "mark": {"type": "text", "align": "center", "baseline": "middle", "fontSize": 10, "fontWeight": "bold"}, "encoding": {"text": {"field": "t"}, "color": {"field": "s", "type": "nominal", "legend": null, "scale": {"domain": ["pu","gr","bg"], "range": ["#8b5ff0","#3fd13f","#3b6cf0"]}}}},
  {"transform": [{"filter": "datum.k === 'title'"}], "mark": {"type": "text", "align": "center", "baseline": "middle", "fontSize": 20, "fontWeight": "bold", "color": "#111111"}, "encoding": {"text": {"field": "t"}}},
  {"transform": [{"filter": "datum.k === 'letter'"}], "mark": {"type": "text", "align": "center", "baseline": "middle", "fontSize": 23, "color": "#111111"}, "encoding": {"text": {"field": "t"}}}
 ]
}
]
}
